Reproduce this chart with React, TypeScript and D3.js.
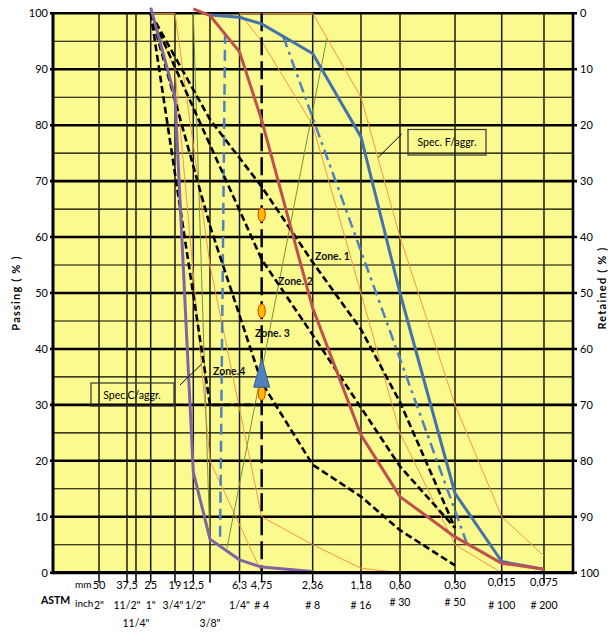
import React from "react";
import * as d3 from "d3";

const W = 615;
const H = 641;
const plot = { left: 53, right: 573, top: 13.3, bottom: 572.7 };

// sieve openings on the x axis (mm), coarse to fine
const sieveMm = [50, 37.5, 31.5, 25, 19, 12.5, 9.5, 6.3, 4.75, 2.36, 1.18, 0.6, 0.3, 0.15, 0.075];
const mmLabels = ["50", "37,5", "", "25", "19", "12,5", "", "6,3", "4,75", "2,36", "1,18", "0,60", "0,30", "0,015", "0,075"];
const inchLabels = ['2"', '11/2"', "", '1"', '3/4"', '1/2"', "", '1/4"', "# 4", "# 8", "# 16", "# 30", "# 50", "# 100", "# 200"];
const inchLabels2 = ["", "", '11/4"', "", "", "", '3/8"', "", "", "", "", "", "", "", ""];

// gradation curves (% passing)
const coarseSizes = [25, 19, 12.5, 9.5, 6.3, 4.75, 2.36];
const coarsePassing = [101, 85, 18, 6, 2.3, 1, 0.2];
const fineSizes = [12.5, 9.5, 6.3, 4.75, 2.36, 1.18, 0.6, 0.3, 0.15, 0.075];
const finePassing = [100.8, 99.6, 93.1, 80.9, 47.3, 24.6, 13.6, 6.4, 1.7, 0.6];
const blendSizes = [9.5, 6.3, 4.75, 2.36, 1.18, 0.6, 0.3, 0.15, 0.075];
const blendPassing = [99.7, 99.3, 98.1, 92.8, 77.9, 50, 14.2, 2, 0.6];

// zone limits
const zone1Sizes = [25, 9.5, 4.75, 2.36, 1.18, 0.6, 0.3];
const zone1Passing = [100, 81, 69, 55.5, 43.5, 30.5, 8];
const zone2Sizes = [25, 4.75, 2.36, 1.18, 0.6, 0.3];
const zone2Passing = [100, 56, 42.5, 29.5, 19, 8];
const zone3Sizes = [25, 9.5, 4.75, 2.36, 1.18, 0.6, 0.3];
const zone3Passing = [100, 62, 34, 19.3, 13.6, 7.6, 1.3];
const zone4Sizes = [25, 9.5, 4.75];
const zone4Passing = [100, 30, 30];

// specification envelopes
const specCSizes = [25, 19, 9.5, 4.75, 2.36, 1.18, 0.6];
const specCUpper = [100, 100, 55, 10, 5, 0.8, 0];
const specCLowerSizes = [25, 19, 9.5, 4.75, 2.36];
const specCLower = [100, 90, 20, 0, 0];
const specFSizes = [6.3, 4.75, 2.36, 1.18, 0.6, 0.3, 0.15, 0.075];
const specFUpper = [100, 100, 100, 85, 60, 30, 10, 3];
const specFLower = [100, 95, 80, 50, 25, 5, 0, 0];

// straight guide lines, [size, passing]
const greenLeft: [number, number][] = [[12.5, 100], [9.5, 5.5]];
const greenRight: [number, number][] = [[1.93, 95.4], [7.5, 4.4]];
const blueDashed: [number, number][] = [[7.7, 96.5], [8.26, 5.5]];
const blueDashDot: [number, number][] = [[3.53, 95.8], [0.252, 5.3]];

// markers on the No. 4 sieve
const ovalPassing = [64, 46.8, 32.1];
const trianglePassing = 35.3;

const zoneLabels = ["Zone. 1", "Zone. 2", "Zone. 3", "Zone.4"];

// the Excel axis is only roughly logarithmic: where each sieve sits across the plot
const sieveStops = [0.0885, 0.1423, 0.1596, 0.1879, 0.2346, 0.2698, 0.3019, 0.3587, 0.4013, 0.4994, 0.5923, 0.6673, 0.7731, 0.8629, 0.9442];
// small nudges so the crowded inch labels don't collide
const inchNudge = [0, 0, 0, 0, -2, 2, 0, 0, 0, 0, 0, 0, 0, 0, 0];

const font = "Lato, 'Liberation Sans', Arial, sans-serif";

const x = d3.scaleLinear()
  .domain(sieveMm.map(Math.log10))
  .range(sieveStops.map(f => plot.left + f * (plot.right - plot.left)));
const y = d3.scaleLinear().domain([0, 100]).range([plot.bottom, plot.top]);
const yRet = d3.scaleLinear().domain([0, 100]).range([plot.top, plot.bottom]);

const line = d3.line<[number, number]>()
  .x(d => x(Math.log10(d[0])))
  .y(d => y(d[1]));

const pairs = (s: number[], p: number[]) => s.map((v, i) => [v, p[i]] as [number, number]);

const App = () => {
  const hTicks = d3.range(0, 101, 5);
  const x475 = x(Math.log10(4.75));
  const triY = y(trianglePassing);

  return (
    <div style={{ position: "absolute", left: 0, top: 0 }}>
      <svg width={W} height={H} style={{ display: "block", background: "#fff" }} fontFamily={font}>
        <rect x={plot.left} y={plot.top} width={plot.right - plot.left} height={plot.bottom - plot.top} fill="#FAFA8E" />

        {/* horizontal grid */}
        {hTicks.map(v => (
          <line key={"h" + v} x1={v % 10 === 0 ? plot.left - 3 : plot.left} x2={v % 10 === 0 ? plot.right + 4 : plot.right}
            y1={y(v)} y2={y(v)} stroke="#000" strokeWidth={v % 10 === 0 ? 2.6 : 1.1} />
        ))}
        {/* vertical grid */}
        {sieveMm.map((s, i) => (
          <g key={"v" + i}>
            {s !== 4.75 && <line x1={x(Math.log10(s))} x2={x(Math.log10(s))} y1={plot.top} y2={plot.bottom} stroke="#1a1a1a" strokeWidth={1.5} />}
            <line x1={x(Math.log10(s))} x2={x(Math.log10(s))} y1={plot.bottom} y2={plot.bottom + 10} stroke="#000" strokeWidth={1.5} />
          </g>
        ))}

        {/* spec envelopes */}
        <g fill="none" stroke="#F79646" strokeWidth={1}>
          <path d={line(pairs(specCSizes, specCUpper)) || ""} />
          <path d={line(pairs(specCLowerSizes, specCLower)) || ""} />
          <path d={line(pairs(specFSizes, specFUpper)) || ""} />
          <path d={line(pairs(specFSizes, specFLower)) || ""} />
        </g>
        <g fill="none" stroke="#77933C" strokeWidth={1}>
          <path d={line(greenLeft) || ""} />
          <path d={line(greenRight) || ""} />
        </g>

        {/* blue guides */}
        <path d={line(blueDashed) || ""} fill="none" stroke="#4F81BD" strokeWidth={2.5} strokeDasharray="11 6" />
        <path d={line(blueDashDot) || ""} fill="none" stroke="#4F81BD" strokeWidth={2.5} strokeDasharray="11 5 3 5" />

        {/* zones */}
        <g fill="none" stroke="#000" strokeWidth={2.6} strokeDasharray="7 3.5">
          <path d={line(pairs(zone1Sizes, zone1Passing)) || ""} />
          <path d={line(pairs(zone2Sizes, zone2Passing)) || ""} />
          <path d={line(pairs(zone3Sizes, zone3Passing)) || ""} />
          <path d={line(pairs(zone4Sizes, zone4Passing)) || ""} />
        </g>

        {/* No. 4 sieve line */}
        <line x1={x475} x2={x475} y1={plot.top} y2={plot.bottom} stroke="#000" strokeWidth={2.5} strokeDasharray="18 6" />

        {/* gradation curves */}
        <path d={line(pairs(blendSizes, blendPassing)) || ""} fill="none" stroke="#4672AC" strokeWidth={3} />
        <path d={line(pairs(fineSizes, finePassing)) || ""} fill="none" stroke="#C0504D" strokeWidth={3} />
        <path d={line(pairs(coarseSizes, coarsePassing)) || ""} fill="none" stroke="#8064A2" strokeWidth={3} />

        {/* markers */}
        {ovalPassing.map((p, i) => (
          <ellipse key={"o" + i} cx={x475} cy={y(p)} rx={3.6} ry={7} fill="#FFC000" stroke="#FF2000" strokeWidth={1} />
        ))}
        <path d={`M${x475},${triY - 17} L${x475 + 8},${triY + 12} L${x475 - 8},${triY + 12} Z`} fill="#4F81BD" stroke="#385D8A" strokeWidth={1} />

        {/* frame */}
        <line x1={plot.left} x2={plot.left} y1={plot.top - 1} y2={plot.bottom + 1.5} stroke="#000" strokeWidth={3} />
        <line x1={plot.right} x2={plot.right} y1={plot.top - 1} y2={plot.bottom + 1.5} stroke="#000" strokeWidth={2.6} />
        <line x1={plot.left} x2={plot.right} y1={plot.bottom} y2={plot.bottom} stroke="#000" strokeWidth={3.2} />

        {/* zone labels */}
        <g fontSize={10.5} fontWeight="bold" fill="#111">
          <text x={315} y={260}>{zoneLabels[0]}</text>
          <text x={278} y={285}>{zoneLabels[1]}</text>
          <text x={255} y={337}>{zoneLabels[2]}</text>
          <text x={213} y={375}>{zoneLabels[3]}</text>
        </g>

        {/* spec call-outs */}
        <line x1={401.7} y1={134} x2={378.3} y2={157.3} stroke="#000" strokeWidth={1} />
        <rect x={408} y={129.5} width={78} height={25.5} fill="none" stroke="#333" strokeWidth={1.2} />
        <text x={447} y={146} fontSize={10.5} textAnchor="middle">Spec. F/aggr.</text>
        <line x1={180} y1={385} x2={201.7} y2={364} stroke="#000" strokeWidth={1} />
        <rect x={91} y={383} width={83} height={23} fill="none" stroke="#333" strokeWidth={1.2} />
        <text x={132} y={398.5} fontSize={10.5} textAnchor="middle">Spec.C/aggr.</text>

        {/* left axis */}
        {d3.range(0, 101, 10).map(v => (
          <text key={"l" + v} x={48} y={y(v) + 4} fontSize={11} textAnchor="end">{v}</text>
        ))}
        {/* right axis (retained) */}
        {d3.range(0, 101, 10).map(v => (
          <text key={"r" + v} x={580} y={yRet(v) + 4} fontSize={11}>{v}</text>
        ))}
        <text transform={`translate(20,${(plot.top + plot.bottom) / 2}) rotate(-90)`} textAnchor="middle" fontSize={11} fontWeight="bold" letterSpacing={1.2}>Passing ( % )</text>
        <text transform={`translate(606,${(plot.top + plot.bottom) / 2 - 5}) rotate(-90)`} textAnchor="middle" fontSize={11} fontWeight="bold" letterSpacing={1.2}>Retained ( % )</text>

        {/* bottom axis labels */}
        <text x={41} y={604} fontSize={10.5} fontWeight="bold">ASTM</text>
        <text x={75} y={588} fontSize={10}>mm</text>
        <text x={75} y={607} fontSize={10}>inch</text>
        {sieveMm.map((s, i) => (
          <g key={"b" + i} fontSize={11} textAnchor="middle">
            <text x={x(Math.log10(s))} y={i >= 13 ? 586 : 589}>{mmLabels[i]}</text>
            <text x={x(Math.log10(s)) + inchNudge[i]} y={i === 11 || i === 12 ? 606 : 609} fontSize={10.5}>{inchLabels[i]}</text>
            <text x={x(Math.log10(s))} y={627} fontSize={10.5}>{inchLabels2[i]}</text>
          </g>
        ))}
      </svg>
    </div>
  );
};

export default App;
